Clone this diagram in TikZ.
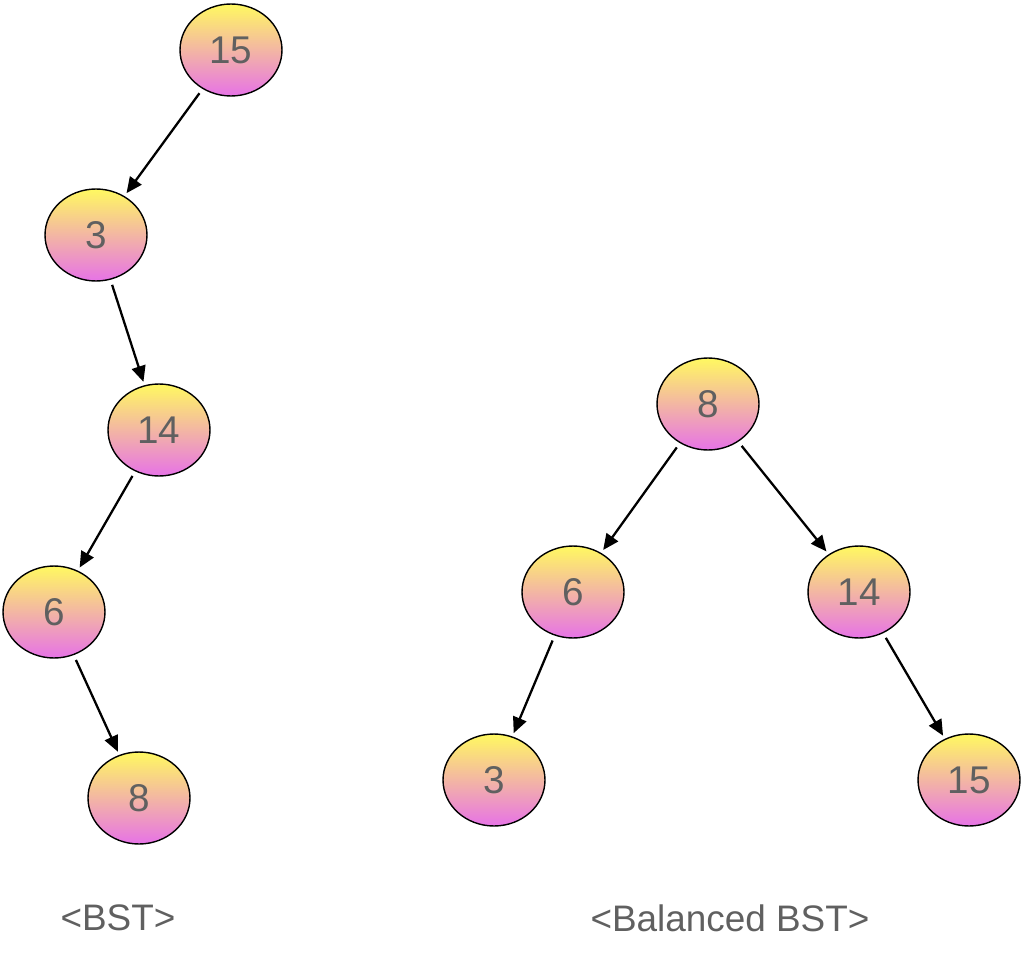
\documentclass[tikz,border=0pt]{standalone}
\usepackage{fontspec}
\setmainfont{Liberation Sans}
\usetikzlibrary{shapes.geometric,arrows.meta}
\definecolor{txt}{HTML}{606060}
\begin{document}
\begin{tikzpicture}[x=0.02cm,y=-0.02cm,
  nd/.style={ellipse,draw=black,line width=0.8pt,minimum width=2.04cm,minimum height=1.84cm,inner sep=0pt,
    top color={yellow!60!white!95!orange},bottom color={violet!35!magenta!55!white},text=txt,font=\fontsize{22}{22}\selectfont},
  ar/.style={-{Triangle[length=9pt,width=8pt]},line width=1.3pt,shorten <=3pt,shorten >=2pt},
  lb/.style={text=txt,font=\fontsize{21}{21}\selectfont}]
\useasboundingbox (0,0) rectangle (1024,956);
\node[nd] (a15) at (231,50) {15};
\node[nd] (a3) at (96,235) {3};
\node[nd] (a14) at (159,430) {14};
\node[nd] (a6) at (54,612) {6};
\node[nd] (a8) at (139,798) {8};
\node[nd] (b8) at (708,404) {8};
\node[nd] (b6) at (573,592) {6};
\node[nd] (b14) at (859,592) {14};
\node[nd] (b3) at (494,780) {3};
\node[nd] (b15) at (969,780) {15};
\draw[ar] (a15) -- (a3);
\draw[ar] (a3) -- (a14);
\draw[ar] (a14) -- (a6);
\draw[ar] (a6) -- (a8);
\draw[ar] (b8) -- (b6);
\draw[ar] (b8) -- (b14);
\draw[ar] (b6) -- (b3);
\draw[ar] (b14) -- (b15);
\node[lb] (l1) at (118,918) {<BST>};
\node[lb] (l2) at (730,918) {<Balanced BST>};
\end{tikzpicture}
\end{document}
